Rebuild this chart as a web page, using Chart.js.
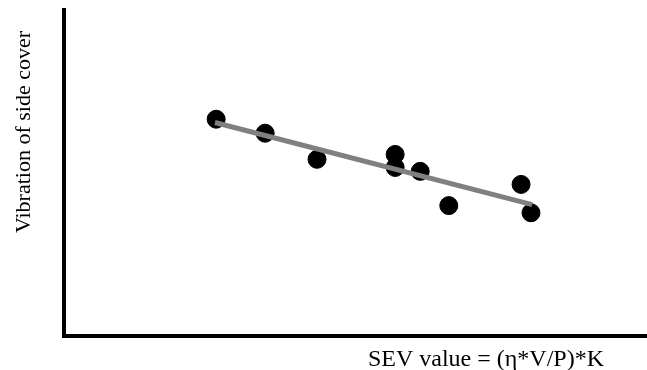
<!DOCTYPE html>
<html>
<head>
<meta charset="utf-8">
<script src="https://cdn.jsdelivr.net/npm/chart.js@4/dist/chart.umd.min.js"></script>
<style>
  html, body { margin: 0; padding: 0; background: #fff; }
  canvas { display: block; }
</style>
</head>
<body>
<canvas id="c" width="647" height="370"></canvas>
<script>
// Data (arbitrary units, axes have no ticks)
const sevValues = [2.61, 3.45, 4.34, 5.68, 5.68, 6.11, 6.60, 7.84, 8.01];
const vibrationValues = [6.65, 6.22, 5.42, 5.57, 5.17, 5.05, 4.00, 4.65, 3.78];
const fitX = [2.59, 8.03];
const fitY = [6.55, 4.03];
const xTitle = 'SEV value = (η*V/P)*K';
const yTitle = 'Vibration of side cover';

const points = sevValues.map((x, i) => ({ x: x, y: vibrationValues[i] }));
const fit = fitX.map((x, i) => ({ x: x, y: fitY[i] }));

const titlePlugin = {
  id: 'titles',
  afterDraw(chart) {
    const ctx = chart.ctx;
    ctx.save();
    ctx.fillStyle = '#000';
    ctx.textBaseline = 'alphabetic';
    ctx.font = '24px "Liberation Serif", "Times New Roman", serif';
    ctx.textAlign = 'right';
    ctx.fillText(xTitle, 604, 366);
    ctx.font = '22px "Liberation Serif", "Times New Roman", serif';
    ctx.translate(30, 132);
    ctx.rotate(-Math.PI / 2);
    ctx.textAlign = 'center';
    ctx.fillText(yTitle, 0, 0);
    ctx.restore();
  }
};

new Chart(document.getElementById('c'), {
  type: 'scatter',
  data: {
    datasets: [
      {
        type: 'line',
        data: fit,
        borderColor: '#808080',
        borderWidth: 5,
        pointRadius: 0,
        fill: false,
        order: 0
      },
      {
        data: points,
        backgroundColor: '#000',
        borderColor: '#000',
        pointRadius: 9,
        pointHoverRadius: 9,
        order: 1
      }
    ]
  },
  options: {
    responsive: false,
    animation: false,
    devicePixelRatio: 1,
    layout: { autoPadding: false, padding: { left: 64, top: 10, right: 0, bottom: 34 } },
    plugins: { legend: { display: false }, tooltip: { enabled: false } },
    scales: {
      x: {
        type: 'linear', min: 0, max: 10,
        grid: { display: false, drawTicks: false },
        border: { display: true, color: '#000', width: 4 },
        ticks: { display: false }
      },
      y: {
        type: 'linear', min: 0, max: 10,
        grid: { display: false, drawTicks: false },
        border: { display: true, color: '#000', width: 4 },
        ticks: { display: false }
      }
    }
  },
  plugins: [titlePlugin]
});
</script>
</body>
</html>
